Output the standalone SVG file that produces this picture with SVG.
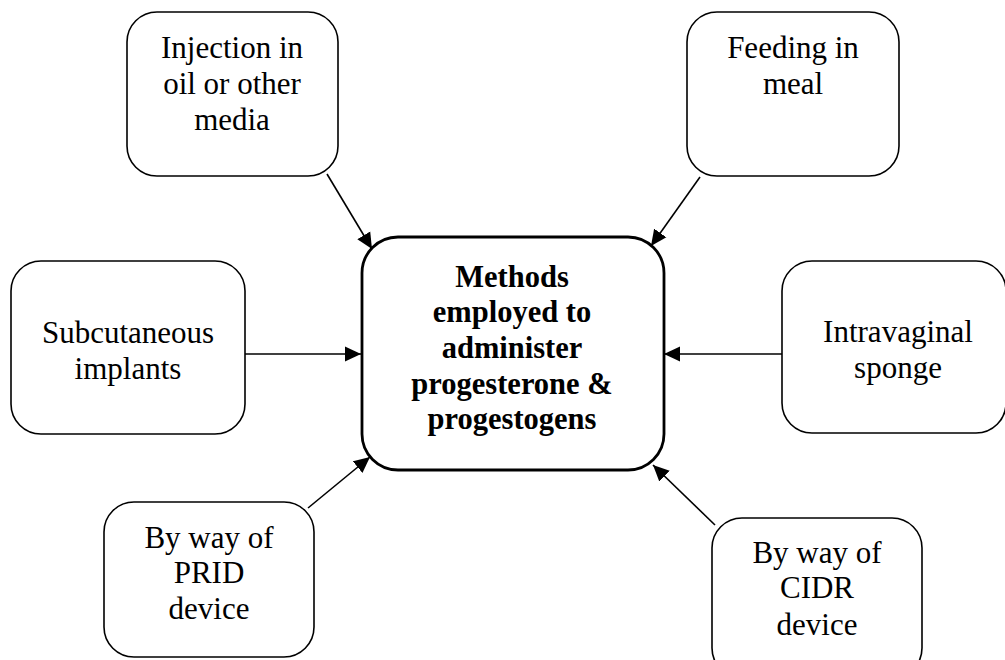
<svg xmlns="http://www.w3.org/2000/svg" width="1005" height="660" viewBox="0 0 1005 660">
<style>
.box{fill:#fff;stroke:#000;stroke-width:1.6}
.main{fill:#fff;stroke:#000;stroke-width:2.8}
.t{font-family:"Liberation Serif","Times New Roman",serif;font-size:31px;text-anchor:middle;fill:#000}
.b{font-weight:bold;font-size:30.5px}
.c{stroke:#000;stroke-width:1.6;fill:none;marker-end:url(#ah)}
</style>
<defs>
<marker id="ah" markerUnits="userSpaceOnUse" markerWidth="17" markerHeight="16" refX="16" refY="8" orient="auto">
<path d="M0,0.5 L16,8 L0,15.5 z" fill="#000"/>
</marker>
</defs>
<g id="connectors">
<line class="c" x1="327" y1="174" x2="372" y2="249"/>
<line class="c" x1="700" y1="177" x2="651" y2="246"/>
<line class="c" x1="245" y1="354" x2="361" y2="354"/>
<line class="c" x1="782" y1="354" x2="664" y2="354"/>
<line class="c" x1="308" y1="508" x2="370" y2="457"/>
<line class="c" x1="715" y1="525" x2="653" y2="465"/>
</g>
<g id="center">
<rect class="main" x="362" y="237" width="302" height="233" rx="36"/>
<text class="t b" x="512" y="287">Methods</text>
<text class="t b" x="512" y="322">employed to</text>
<text class="t b" x="512" y="358">administer</text>
<text class="t b" x="512" y="394">progesterone &amp;</text>
<text class="t b" x="512" y="429">progestogens</text>
</g>
<g id="injection">
<rect class="box" x="127" y="12" width="211" height="164" rx="30"/>
<text class="t" x="232" y="58">Injection in</text>
<text class="t" x="232" y="94">oil or other</text>
<text class="t" x="232" y="130">media</text>
</g>
<g id="feeding">
<rect class="box" x="687" y="12" width="212" height="164" rx="30"/>
<text class="t" x="793" y="58">Feeding in</text>
<text class="t" x="793" y="94">meal</text>
</g>
<g id="subcutaneous">
<rect class="box" x="11" y="261" width="234" height="173" rx="30"/>
<text class="t" x="128" y="343">Subcutaneous</text>
<text class="t" x="128" y="379">implants</text>
</g>
<g id="intravaginal">
<rect class="box" x="782" y="261" width="224" height="172" rx="30"/>
<text class="t" x="898" y="342">Intravaginal</text>
<text class="t" x="898" y="378">sponge</text>
</g>
<g id="prid">
<rect class="box" x="104" y="502" width="210" height="155" rx="30"/>
<text class="t" x="209" y="548">By way of</text>
<text class="t" x="209" y="583">PRID</text>
<text class="t" x="209" y="619">device</text>
</g>
<g id="cidr">
<rect class="box" x="712" y="518" width="210" height="160" rx="30"/>
<text class="t" x="817" y="563">By way of</text>
<text class="t" x="817" y="598">CIDR</text>
<text class="t" x="817" y="635">device</text>
</g>
</svg>
